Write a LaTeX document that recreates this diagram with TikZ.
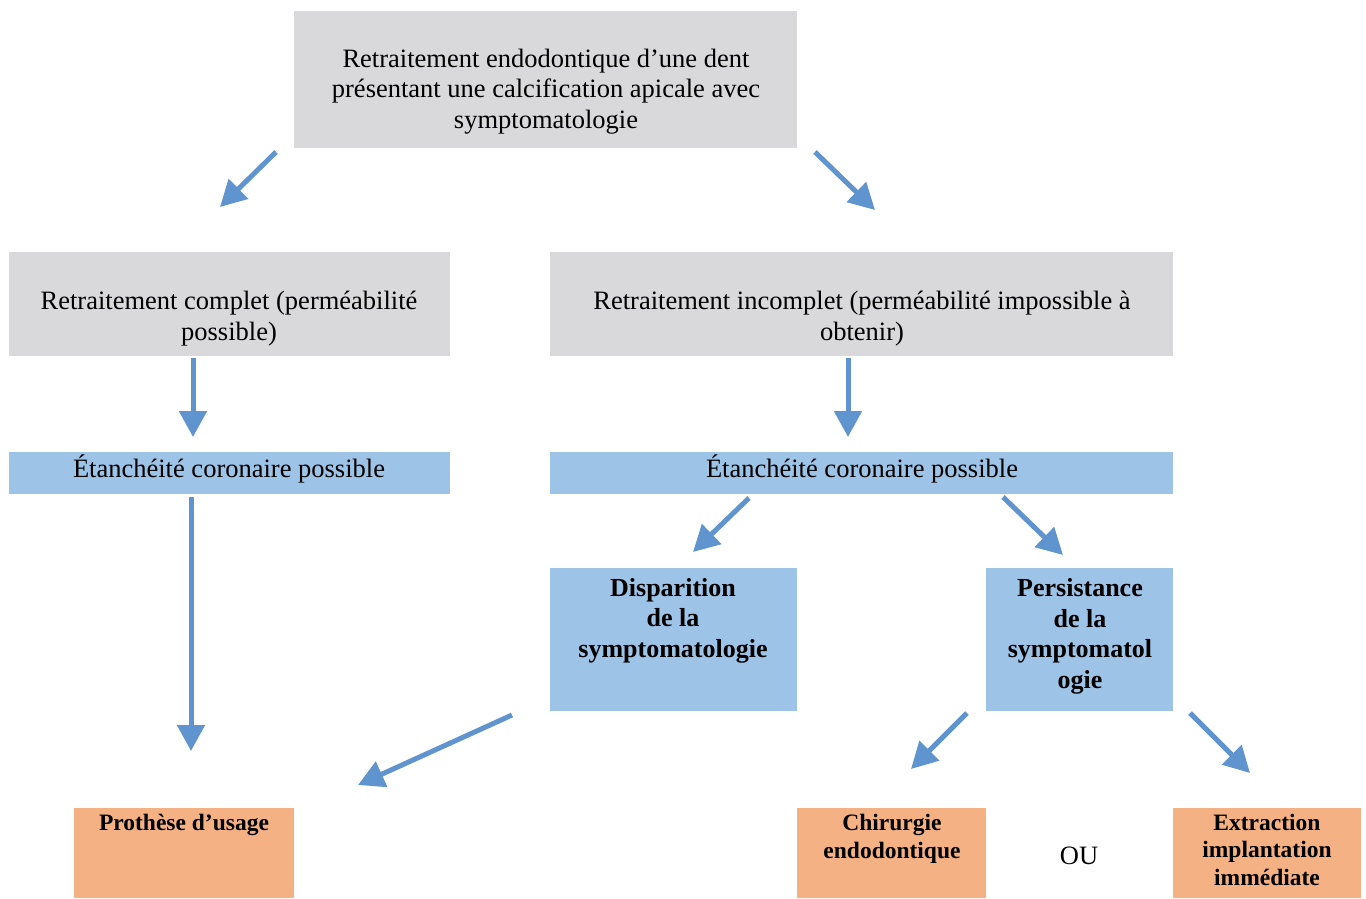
\documentclass[tikz,border=0pt]{standalone}
\usepackage{fontspec}
\setmainfont{Liberation Serif}
\usetikzlibrary{arrows.meta}
\definecolor{boxgray}{RGB}{217,217,219}
\definecolor{boxblue}{RGB}{157,195,230}
\definecolor{boxorange}{RGB}{244,177,131}
\definecolor{arrblue}{RGB}{96,148,207}
\tikzset{
  box/.style={draw=none, inner sep=0pt, outer sep=0pt},
  gbox/.style={box, fill=boxgray},
  bbox/.style={box, fill=boxblue},
  obox/.style={box, fill=boxorange},
  txt/.style={inner sep=0pt, align=center, anchor=base, font=\fontsize{26.5}{30.5}\selectfont},
  btxt/.style={inner sep=0pt, align=center, anchor=base, font=\fontsize{26}{30.5}\selectfont\bfseries},
  stxt/.style={inner sep=0pt, align=center, anchor=base, font=\fontsize{23.5}{27.5}\selectfont\bfseries},
  arr/.style={draw=arrblue, line width=5pt, -{Triangle[length=26pt,width=27pt]}},
}
\begin{document}
\begin{tikzpicture}[x=1pt,y=-1pt]
\useasboundingbox (0,0) rectangle (1366,898);
% boxes
\path[gbox] (294,11) rectangle (797,148) node[pos=0.5] (top) {};
\path[gbox] (9,252) rectangle (450,356) node[pos=0.5] (lg) {};
\path[gbox] (550,252) rectangle (1173,356) node[pos=0.5] (rg) {};
\path[bbox] (9,452) rectangle (450,494) node[pos=0.5] (lb) {};
\path[bbox] (550,452) rectangle (1173,494) node[pos=0.5] (rb) {};
\path[bbox] (550,568) rectangle (797,711) node[pos=0.5] (disp) {};
\path[bbox] (986,568) rectangle (1173,711) node[pos=0.5] (pers) {};
\path[obox] (74,808) rectangle (294,898) node[pos=0.5] (proth) {};
\path[obox] (797,808) rectangle (986,898) node[pos=0.5] (chir) {};
\path[obox] (1173,808) rectangle (1361,898) node[pos=0.5] (extr) {};
% texts (anchor = baseline of last line)
\node[txt] (toptxt) at (546,128) {Retraitement endodontique d’une dent\\présentant une calcification apicale avec\\symptomatologie};
\node[txt] (lgtxt) at (229,340) {Retraitement complet (perméabilité\\possible)};
\node[txt] (rgtxt) at (862,340) {Retraitement incomplet (perméabilité impossible à\\obtenir)};
\node[txt] (lbtxt) at (229,477) {Étanchéité coronaire possible};
\node[txt] (rbtxt) at (862,477) {Étanchéité coronaire possible};
\node[btxt] (disptxt) at (673,657) {Disparition\\de la\\symptomatologie};
\node[btxt] (perstxt) at (1080,688) {Persistance\\de la\\symptomatol\\ogie};
\node[stxt] (prothtxt) at (184,830) {Prothèse d’usage};
\node[stxt] (chirtxt) at (892,858) {Chirurgie\\endodontique};
\node[stxt] (extrtxt) at (1267,885) {Extraction\\implantation\\immédiate};
\node[txt] (ou) at (1079,864) {OU};
% arrow end points
\coordinate (a1s) at (276,152); \coordinate (a1e) at (220,207);
\coordinate (a2s) at (815,152); \coordinate (a2e) at (875,210);
\coordinate (a3s) at (193,358); \coordinate (a3e) at (193,437);
\coordinate (a4s) at (848,358); \coordinate (a4e) at (848,437);
\coordinate (a5s) at (749,498); \coordinate (a5e) at (693,552);
\coordinate (a6s) at (1003,497); \coordinate (a6e) at (1063,555);
\coordinate (a7s) at (191,497); \coordinate (a7e) at (191,751);
\coordinate (a8s) at (512,715); \coordinate (a8e) at (358,785);
\coordinate (a9s) at (967,713); \coordinate (a9e) at (911,769);
\coordinate (a10s) at (1190,713); \coordinate (a10e) at (1250,773);
\foreach \i in {1,...,10} \draw[arr] (a\i s) -- (a\i e);
\end{tikzpicture}
\end{document}
